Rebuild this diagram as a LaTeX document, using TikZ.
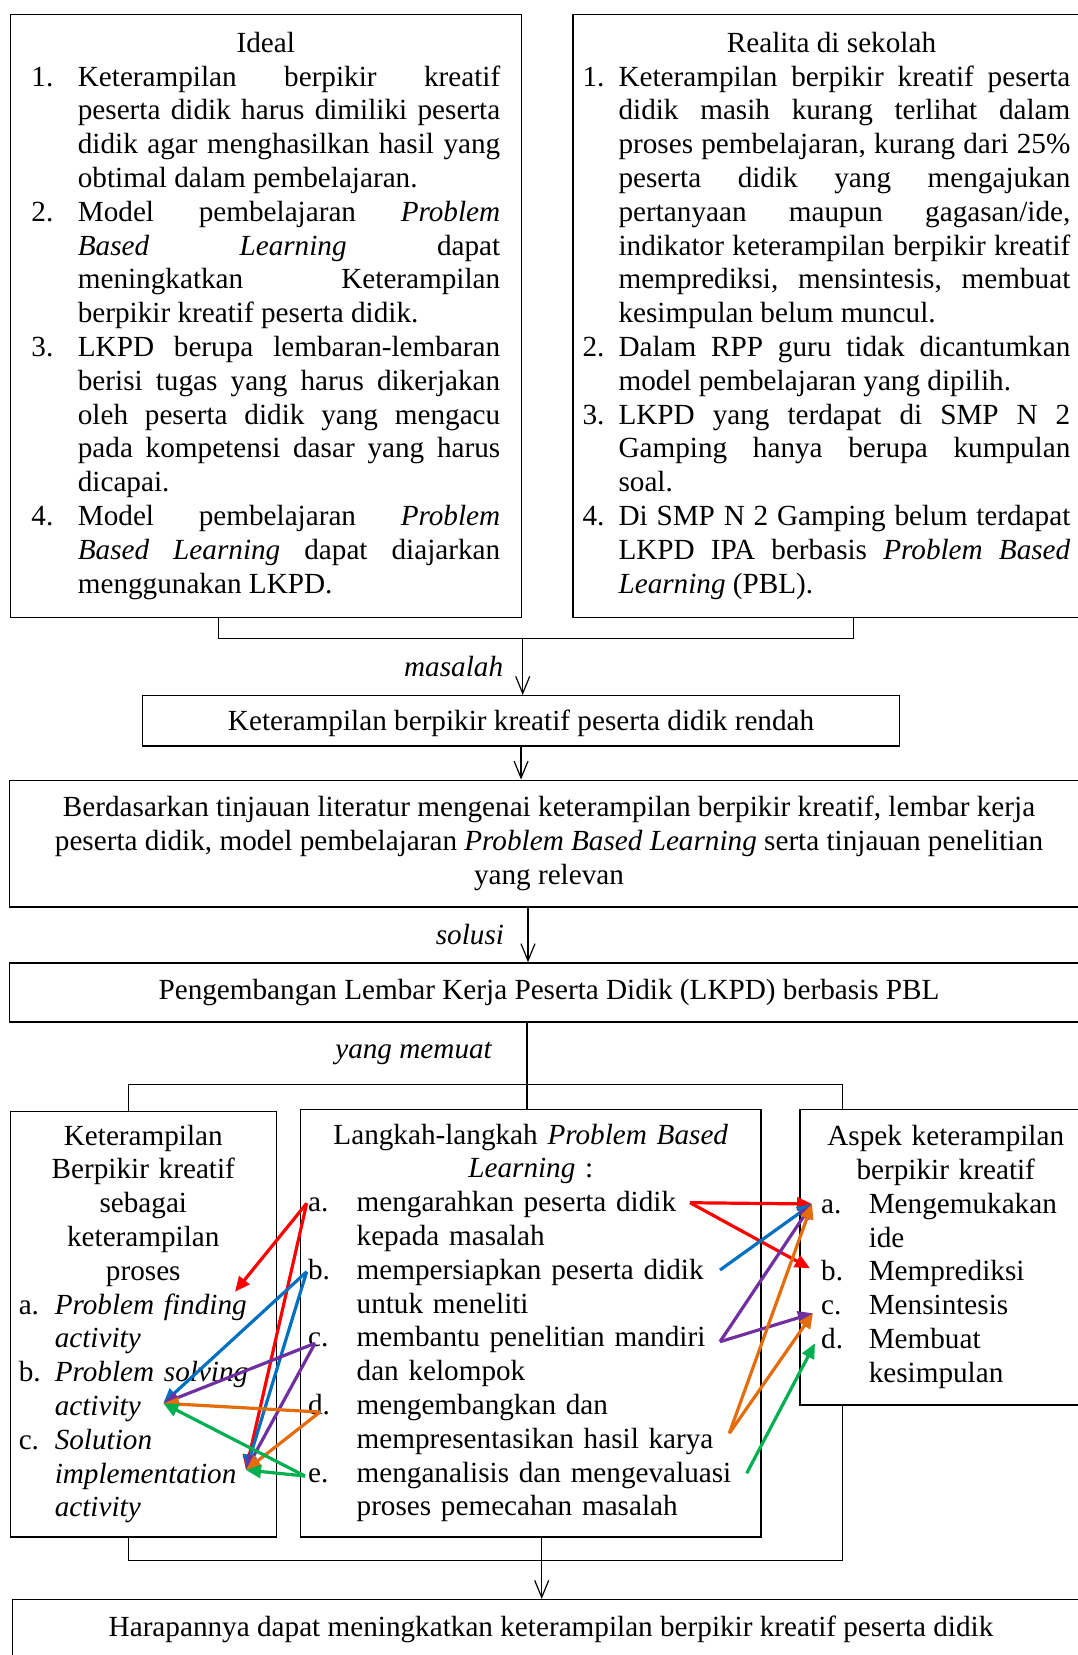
\documentclass[tikz,border=0pt]{standalone}
\usepackage{fontspec}
\setmainfont{Liberation Serif}
\usetikzlibrary{arrows.meta}
\definecolor{pblred}{RGB}{255,0,0}
\definecolor{pblblue}{RGB}{0,112,192}
\definecolor{pblpurple}{RGB}{112,48,160}
\definecolor{pblorange}{RGB}{228,108,10}
\definecolor{pblgreen}{RGB}{0,176,80}
\newlength\labw
\newcommand\hd[1]{{\noindent\centering\strut#1\par}}
\newcommand\litem[2]{\par\noindent\hangindent=\labw\hangafter=1\makebox[\labw][l]{#1}#2\par}
\tolerance=10000
\hyphenpenalty=10000
\exhyphenpenalty=10000
\parskip=0pt
\begin{document}
\begin{tikzpicture}[x=0.5pt, y=-0.5pt, line width=0.6pt, font=\fontsize{14.6}{16.9}\selectfont]
\tikzstyle{box}=[draw, line width=0.75pt, inner ysep=0pt]
\tikzstyle{arr}=[-{Straight Barb[length=8.5pt,width=7pt]}]
\tikzstyle{carr}=[-{Triangle[length=7.5pt,width=6.5pt]}, line width=1.6pt]
\useasboundingbox (0,0) rectangle (1077,1655);

\node[box, align=justify, anchor=north west, text width=234.4pt, inner xsep=10.6pt, minimum height=301.5pt] (ideal) at (9.5,13.7) {%
  \setlength\labw{23.2pt}\spaceskip=.25em plus .3em minus .12em%
  \hd{Ideal}
  \litem{1.}{Keterampilan berpikir kreatif\linebreak peserta didik harus dimiliki peserta\linebreak didik agar menghasilkan hasil yang\linebreak obtimal dalam pembelajaran.}
  \litem{2.}{Model pembelajaran \textit{Problem}\linebreak \textit{Based Learning} dapat\linebreak meningkatkan Keterampilan\linebreak berpikir kreatif peserta didik.}
  \litem{3.}{LKPD berupa lembaran-lembaran\linebreak berisi tugas yang harus dikerjakan\linebreak oleh peserta didik yang mengacu\linebreak pada kompetensi dasar yang harus\linebreak dicapai.}
  \litem{4.}{Model pembelajaran \textit{Problem}\linebreak \textit{Based Learning} dapat diajarkan\linebreak menggunakan LKPD.\strut}};
\node[box, align=justify, anchor=north west, text width=243.9pt, inner xsep=4.75pt, minimum height=301.5pt] (real) at (572.3,13.7) {%
  \setlength\labw{18pt}\spaceskip=.25em plus .3em minus .12em%
  \hd{\hspace*{5pt}Realita di sekolah}
  \litem{1.}{Keterampilan berpikir kreatif peserta\linebreak didik masih kurang terlihat dalam\linebreak proses pembelajaran, kurang dari 25\%\linebreak peserta didik yang mengajukan\linebreak pertanyaan maupun gagasan/ide,\linebreak indikator keterampilan berpikir kreatif\linebreak memprediksi, mensintesis, membuat\linebreak kesimpulan belum muncul.}
  \litem{2.}{Dalam RPP guru tidak dicantumkan\linebreak model pembelajaran yang dipilih.}
  \litem{3.}{LKPD yang terdapat di SMP N 2\linebreak Gamping hanya berupa kumpulan\linebreak soal.}
  \litem{4.}{Di SMP N 2 Gamping belum terdapat\linebreak LKPD IPA berbasis \textit{Problem Based}\linebreak \textit{Learning} (PBL).\strut}};
\node[box, align=center, minimum width=378.55pt, minimum height=25.15pt] (rendah) at (521.05,720.85) {\raisebox{-5pt}[0pt][0pt]{Keterampilan berpikir kreatif peserta didik rendah}};
\node[box, align=center, minimum width=539.5pt, minimum height=63.35pt] (dasar) at (549,843.65) {Berdasarkan tinjauan literatur mengenai keterampilan berpikir kreatif, lembar kerja\\ peserta didik, model pembelajaran \textit{Problem Based Learning} serta tinjauan penelitian\\ yang relevan};
\node[box, align=center, minimum width=539.5pt, minimum height=29.5pt] (kembang) at (549,992.5) {Pengembangan Lembar Kerja Peserta Didik (LKPD) berbasis PBL};
\node[box, anchor=north west, text width=124.55pt, inner xsep=4.25pt, minimum height=212.75pt] (kiri) at (9.5,1110.8) {%
  \setlength\labw{18pt}%
  \hd{Keterampilan\\ Berpikir kreatif\\ sebagai\\ keterampilan\\ proses}
  \litem{a.}{\textit{Problem finding}\newline \textit{activity}}
  \litem{b.}{\textit{Problem solving}\newline \textit{activity}}
  \litem{c.}{\textit{Solution}\newline \textit{implementation}\newline \textit{activity}\strut}};
\node[box, anchor=north west, text width=222.75pt, inner xsep=3.7pt, minimum height=213.8pt] (tengah) at (299.9,1108.7) {%
  \setlength\labw{24.3pt}%
  \hd{Langkah-langkah \textit{Problem Based}\\ \textit{Learning} :}
  \litem{a.}{mengarahkan peserta didik\newline kepada masalah}
  \litem{b.}{mempersiapkan peserta didik\newline untuk meneliti}
  \litem{c.}{membantu penelitian mandiri\newline dan kelompok}
  \litem{d.}{mengembangkan dan\newline mempresentasikan hasil karya}
  \litem{e.}{menganalisis dan mengevaluasi\newline proses pemecahan masalah\strut}};
\node[box, anchor=north west, text width=124.6pt, inner xsep=10.55pt, minimum height=147.8pt] (kanan) at (799.3,1108.7) {%
  \setlength\labw{23.8pt}%
  \hd{Aspek keterampilan\\ berpikir kreatif}
  \litem{a.}{Mengemukakan\newline ide}
  \litem{b.}{Memprediksi}
  \litem{c.}{Mensintesis}
  \litem{d.}{Membuat\newline kesimpulan\strut}};
\node[box, align=center, minimum width=538.3pt, minimum height=29.15pt] (harapan) at (551,1628.85) {Harapannya dapat meningkatkan keterampilan berpikir kreatif peserta didik};

\foreach \px/\py/\name in {218.6/638.8/b1, 522.7/638.8/j1, 853.2/638.8/b2,
                           528/907/s1, 527/1084.4/y1, 128.8/1084.4/c1,
                           842.6/1084.4/c2, 128.8/1560.6/d1, 541.7/1560.6/h1,
                           842.6/1560.6/d2}
  \coordinate (\name) at (\px,\py);
\draw (b1 |- ideal.south) -- (b1) -- (b2) -- (b2 |- real.south);
\draw[arr] (j1) -- (j1 |- rendah.north) node[midway, left=9.5pt, inner sep=0pt] {\textit{masalah}};
\draw[arr] (rendah.south) -- (rendah.south |- dasar.north);
\draw[arr] (s1 |- dasar.south) -- (s1 |- kembang.north) node[midway, left=11.7pt, inner sep=0pt] {\textit{solusi}};
\draw (y1 |- kembang.south) -- (y1) node[midway, left=17pt, inner sep=0pt] {\textit{yang memuat}};
\draw (c1 |- kiri.north) -- (c1) -- (c2) -- (c2 |- kanan.north);
\draw (y1) -- (y1 |- tengah.north);
\draw (d1 |- kiri.south) -- (d1) -- (d2) -- (d2 |- kanan.south);
\draw[arr] (h1 |- tengah.south) -- (h1 |- harapan.north);

\foreach \px/\py/\name in {306.7/1203.3/ka, 306.7/1271.7/kb, 315/1343.3/kc,
                           320/1412/kd, 305/1476/ke,
                           235/1291.7/pa, 163.3/1403.3/pb, 246/1470/pc,
                           690/1202.7/sa, 720/1270/sb, 720/1341.7/sc,
                           729.3/1433.3/sd, 746.7/1473.3/se,
                           812/1204/qa, 810/1268.3/qb, 813/1313.3/qc,
                           815/1343.3/qd}
  \coordinate (\name) at (\px,\py);
\foreach \source/\dest/\clr in {ka/pa/pblred, ka/pc/pblred, kb/pb/pblblue, kb/pc/pblblue,
                                kc/pb/pblpurple, kc/pc/pblpurple, kd/pb/pblorange, kd/pc/pblorange,
                                ke/pb/pblgreen, ke/pc/pblgreen,
                                sa/qa/pblred, sa/qb/pblred, sb/qa/pblblue, sc/qa/pblpurple,
                                sc/qc/pblpurple, sd/qa/pblorange, sd/qc/pblorange, se/qd/pblgreen}
  \path[carr, \clr] (\source) edge (\dest);
\end{tikzpicture}
\end{document}
